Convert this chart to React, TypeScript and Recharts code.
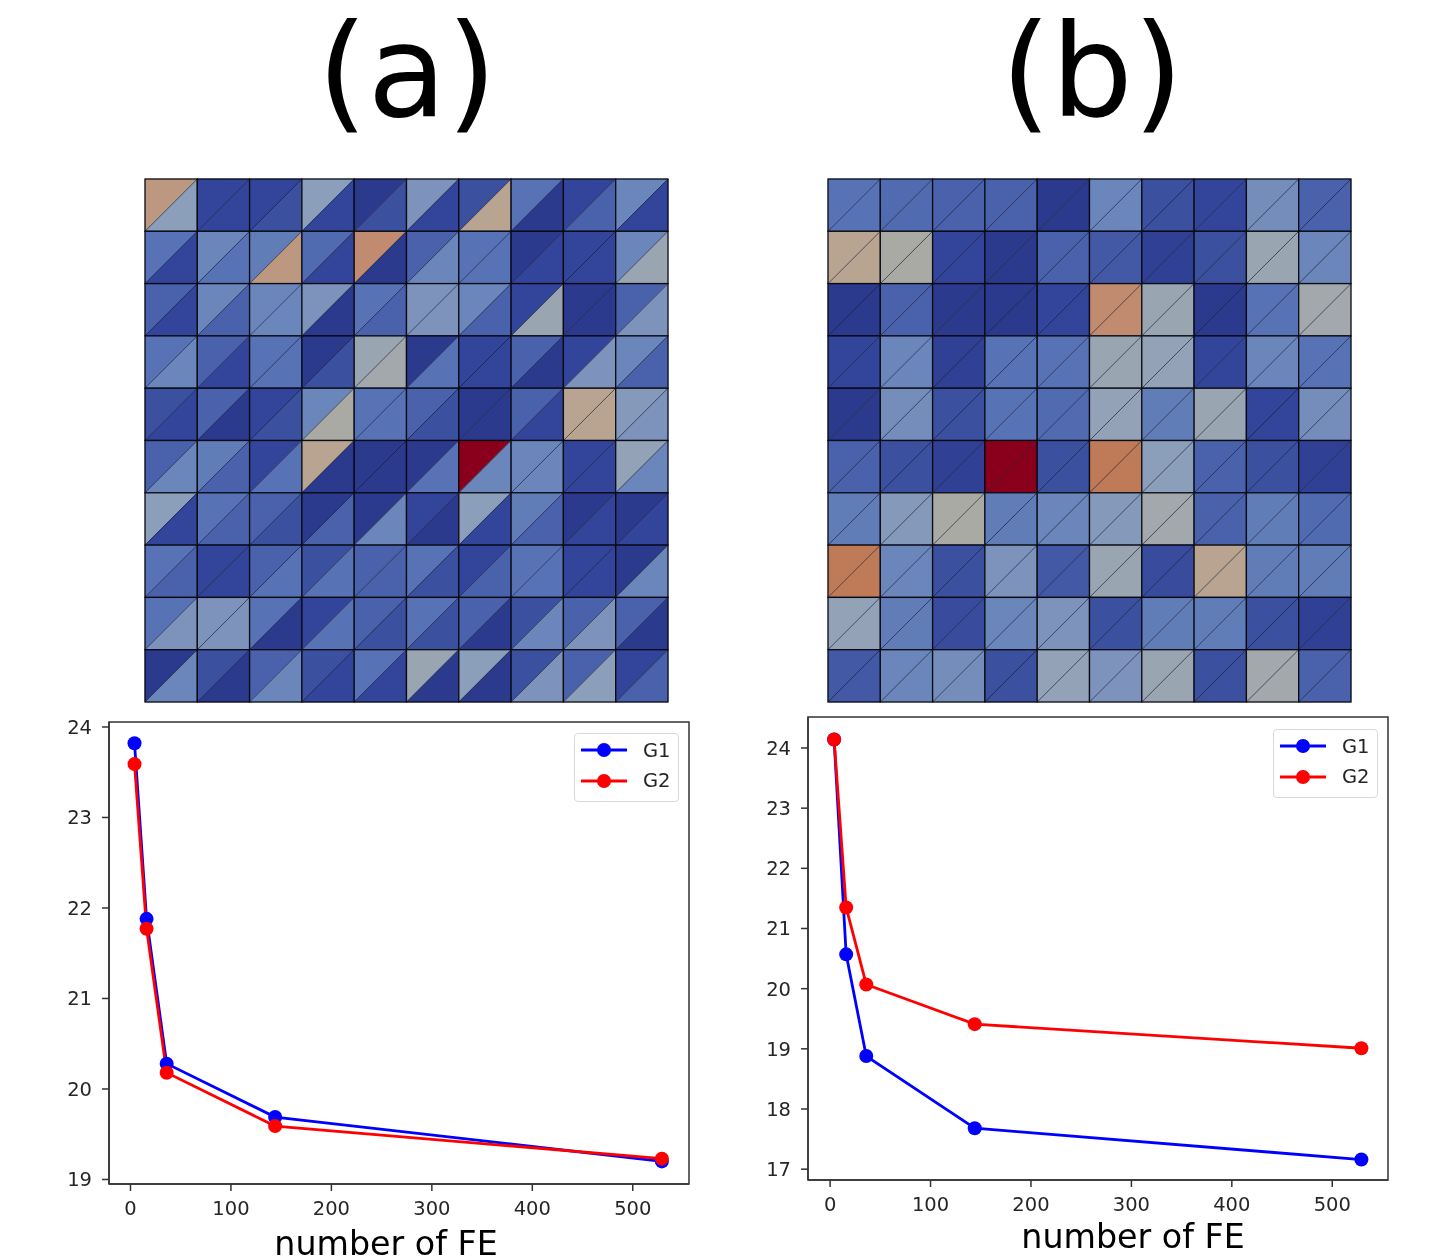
import { Scatter, ScatterChart, XAxis, YAxis, LineChart, Line, Legend, ReferenceArea } from 'recharts'

// colour level -> hex
const levelColors = [
  '#2c3a8e', '#33459a', '#3c50a0', '#4a62ab', '#5873b5', '#6a86bb', '#7d93bb',
  '#8c9fba', '#9aa5b2', '#a9aaa3', '#b8a491', '#c08b6e', '#bf7a58', '#8a001c',
]

const meshAUpper = [
  [10.5, 1, 1, 7, 0, 6, 2, 4, 1, 5],
  [4, 5, 4.5, 3.5, 11, 3, 4, 0, 1, 5],
  [3, 5, 5, 6, 4, 6, 5, 1, 0, 3],
  [4, 3, 4, 0, 8, 0, 1, 3, 1, 5],
  [2, 3, 1, 5, 4, 3, 0, 3, 10, 6.5],
  [3, 4.5, 1, 10, 0, 0, 13, 5, 1, 7.5],
  [7, 4, 3, 0, 0, 1, 7, 4.5, 0, 0],
  [4, 1, 3, 2, 3, 4, 1, 4, 1, 0],
  [4, 6, 4, 1, 3, 4, 3, 2, 3, 3],
  [0, 2, 3, 2, 4, 8, 7, 2, 3, 1],
]
const meshALower = [
  [7, 1, 2, 1, 2, 1, 10, 0, 3, 1],
  [1, 4, 10.5, 1, 0, 5, 4, 1, 1, 8],
  [1, 3, 5, 0, 3, 6, 3, 8, 0, 6],
  [5, 1, 4, 2, 8.5, 4, 1, 0, 6, 3],
  [1, 0, 2, 9, 4, 2, 0, 1, 10, 6],
  [5, 3, 4, 0, 0, 4, 5, 5, 1, 5],
  [1, 3, 2, 3, 5, 0, 1, 3, 1, 1],
  [3, 1, 4, 4, 3, 2, 3, 4, 1, 5],
  [6, 6, 0, 4, 2, 2, 0, 5, 6, 0],
  [5, 0, 5, 1, 1, 0, 0, 6, 7, 3],
]
const meshB = [
  [4, 3.5, 3, 3, 0, 5, 2, 1, 5.5, 3],
  [10, 9, 1, 0, 3, 2.5, 0.5, 2, 8, 5],
  [0, 3, 0, 0, 1, 11, 8, 0, 4, 8.5],
  [1, 5, 0.5, 4, 4, 8, 7.5, 1, 5, 4],
  [0, 5.5, 2, 4, 3.5, 7.5, 4.5, 8, 1, 5.5],
  [3, 2, 0.5, 13, 2, 12, 7, 3, 2, 0.5],
  [4.5, 6.5, 9, 4.5, 5, 6.5, 8.5, 3, 4.5, 3.5],
  [12, 5, 2, 6, 2.5, 8, 1.5, 10, 4.5, 4.5],
  [7.5, 4.5, 1.5, 5, 6, 2, 4.5, 4.5, 2, 0.5],
  [2.5, 5, 5.5, 2, 7.5, 6, 8, 2, 8.5, 3],
]

const feCounts = [4, 16, 36, 144, 529]
const g1A = [23.82, 21.88, 20.28, 19.69, 19.2]
const g2A = [23.59, 21.77, 20.18, 19.59, 19.23]
const g1B = [24.14, 20.57, 18.88, 17.68, 17.16]
const g2B = [24.14, 21.35, 20.07, 19.41, 19.01]

const xTicks = [0, 100, 200, 300, 400, 500]
const yTicksA = [19, 20, 21, 22, 23, 24]
const yTicksB = [17, 18, 19, 20, 21, 22, 23, 24]

const FONT = '"DejaVu Sans", sans-serif'
const MESH = 523
const CELL = MESH / 10

function levelColor(level: number) {
  const lo = Math.floor(level)
  const hi = Math.min(lo + 1, levelColors.length - 1)
  const t = level - lo
  const a = levelColors[lo], b = levelColors[hi]
  const ch = (i: number) =>
    Math.round(parseInt(a.slice(i, i + 2), 16) * (1 - t) + parseInt(b.slice(i, i + 2), 16) * t)
  return `rgb(${ch(1)},${ch(3)},${ch(5)})`
}

function MeshCell(props: any) {
  const { cx, cy, payload } = props
  const x0 = cx, y0 = cy, x1 = cx + CELL, y1 = cy + CELL
  const up = levelColor(payload.upper)
  const low = levelColor(payload.lower)
  return (
    <g>
      <polygon points={`${x0},${y0} ${x1},${y0} ${x0},${y1}`} fill={up} stroke={up} strokeWidth={0.5} />
      <polygon points={`${x1},${y0} ${x1},${y1} ${x0},${y1}`} fill={low} stroke={low} strokeWidth={0.5} />
      <line x1={x0} y1={y1} x2={x1} y2={y0} stroke="#10142e" strokeOpacity={0.65} strokeWidth={1} />
      <rect x={x0} y={y0} width={CELL} height={CELL} fill="none" stroke="#05060f" strokeOpacity={0.95} strokeWidth={1.3} />
    </g>
  )
}

function Mesh({ left, upper, lower }: { left: number; upper: number[][]; lower: number[][] }) {
  const cells = upper.flatMap((row, r) =>
    row.map((v, c) => ({ col: c, row: r, upper: v, lower: lower[r][c] })),
  )
  return (
    <div style={{ position: 'absolute', left: left - 2, top: 176.5, filter: 'blur(0.6px)' }}>
      <ScatterChart width={MESH + 4} height={MESH + 3} margin={{ top: 2, right: 2, bottom: 1, left: 2 }}>
        <XAxis type="number" dataKey="col" domain={[0, 10]} hide />
        <YAxis type="number" dataKey="row" domain={[0, 10]} reversed hide />
        <Scatter data={cells} shape={MeshCell} isAnimationActive={false} />
      </ScatterChart>
    </div>
  )
}

function FeLegend({ left, top }: { left: number; top: number }) {
  const rows = [
    { name: 'G1', color: '#0000ff' },
    { name: 'G2', color: '#ff0000' },
  ]
  return (
    <div
      style={{
        position: 'absolute', left, top, width: 105, height: 69, boxSizing: 'border-box',
        border: '1.5px solid #d8d8d8', borderRadius: 4, background: 'rgba(255,255,255,0.8)',
        fontFamily: FONT, fontSize: 19.5, color: '#262626',
      }}
    >
      {rows.map((r, i) => (
        <div key={r.name} style={{ position: 'absolute', left: 6, top: 1 + i * 30.5, height: 30, display: 'flex', alignItems: 'center' }}>
          <svg width={46} height={18}>
            <line x1={0} y1={9} x2={46} y2={9} stroke={r.color} strokeWidth={2.8} />
            <circle cx={23} cy={9} r={7} fill={r.color} />
          </svg>
          <span style={{ marginLeft: 16 }}>{r.name}</span>
        </div>
      ))}
    </div>
  )
}

type PlotProps = {
  left: number; top: number; width: number; height: number
  plotLeft: number; plotTop: number; plotRight: number; plotBottom: number
  g1: number[]; g2: number[]; yTicks: number[]
  xDomain: [number, number]; yDomain: [number, number]
  labelDx: number; labelDy: number
  legendLeft: number; legendTop: number
}

function FePlot(p: PlotProps) {
  const data = feCounts.map((fe, i) => ({ fe, G1: p.g1[i], G2: p.g2[i] }))
  const tick = { fontFamily: FONT, fontSize: 19.5, fill: '#262626' }
  const axisLine = { stroke: '#333333', strokeWidth: 1.5 }
  return (
    <div style={{ position: 'absolute', left: p.left, top: p.top, filter: 'blur(0.4px)' }}>
      <LineChart
        width={p.width}
        height={p.height}
        data={data}
        margin={{ top: p.plotTop - p.top, right: p.left + p.width - p.plotRight, bottom: 0, left: 0 }}
      >
        <XAxis
          type="number"
          dataKey="fe"
          domain={p.xDomain}
          ticks={xTicks}
          allowDataOverflow
          height={p.top + p.height - p.plotBottom}
          tick={tick}
          tickSize={7}
          tickMargin={10}
          axisLine={axisLine}
          tickLine={axisLine}
          label={{
            value: 'number of FE',
            position: 'insideBottom',
            dx: p.labelDx,
            dy: p.labelDy,
            style: { fontFamily: FONT, fontSize: 33.3, fill: '#000000' },
          }}
        />
        <YAxis
          type="number"
          domain={p.yDomain}
          ticks={p.yTicks}
          allowDataOverflow
          width={p.plotLeft - p.left}
          tick={tick}
          tickSize={7}
          tickMargin={10}
          axisLine={axisLine}
          tickLine={axisLine}
        />
        <ReferenceArea
          x1={p.xDomain[0]}
          x2={p.xDomain[1]}
          y1={p.yDomain[0]}
          y2={p.yDomain[1]}
          fill="none"
          stroke="#333333"
          strokeWidth={1.5}
        />
        <Line dataKey="G1" type="linear" stroke="#0000ff" strokeWidth={2.8} dot={{ r: 7, fill: '#0000ff', stroke: '#0000ff', strokeWidth: 0 }} isAnimationActive={false} />
        <Line dataKey="G2" type="linear" stroke="#ff0000" strokeWidth={2.8} dot={{ r: 7, fill: '#ff0000', stroke: '#ff0000', strokeWidth: 0 }} isAnimationActive={false} />
        <Legend content={() => <FeLegend left={p.legendLeft - p.left} top={p.legendTop - p.top} />} wrapperStyle={{ position: 'absolute', left: 0, top: 0, width: 0, height: 0 }} />
      </LineChart>
    </div>
  )
}

function Title({ text, center }: { text: string; center: number }) {
  return (
    <div
      style={{
        position: 'absolute', left: center - 150, top: 0, width: 300, textAlign: 'center',
        fontFamily: FONT, fontSize: 129, lineHeight: '143px', color: '#000000',
      }}
    >
      {text}
    </div>
  )
}

export default function App() {
  return (
    <div style={{ position: 'absolute', left: 0, top: 0, width: 1456, height: 1257, overflow: 'hidden', background: '#ffffff' }}>
      <Title text="(a)" center={407} />
      <Title text="(b)" center={1092} />
      <Mesh left={145} upper={meshAUpper} lower={meshALower} />
      <Mesh left={828} upper={meshB} lower={meshB} />
      <FePlot
        left={50} top={700} width={660} height={557}
        plotLeft={109} plotTop={722} plotRight={689} plotBottom={1184}
        g1={g1A} g2={g2A} yTicks={yTicksA} xDomain={[-21.4, 556]} yDomain={[18.95, 24.055]}
        labelDx={-13} labelDy={3}
        legendLeft={574} legendTop={733}
      />
      <FePlot
        left={750} top={695} width={660} height={562}
        plotLeft={808} plotTop={717} plotRight={1388} plotBottom={1180}
        g1={g1B} g2={g2B} yTicks={yTicksB} xDomain={[-22, 555.5]} yDomain={[16.82, 24.515]}
        labelDx={35} labelDy={-4}
        legendLeft={1273} legendTop={729}
      />
    </div>
  )
}
